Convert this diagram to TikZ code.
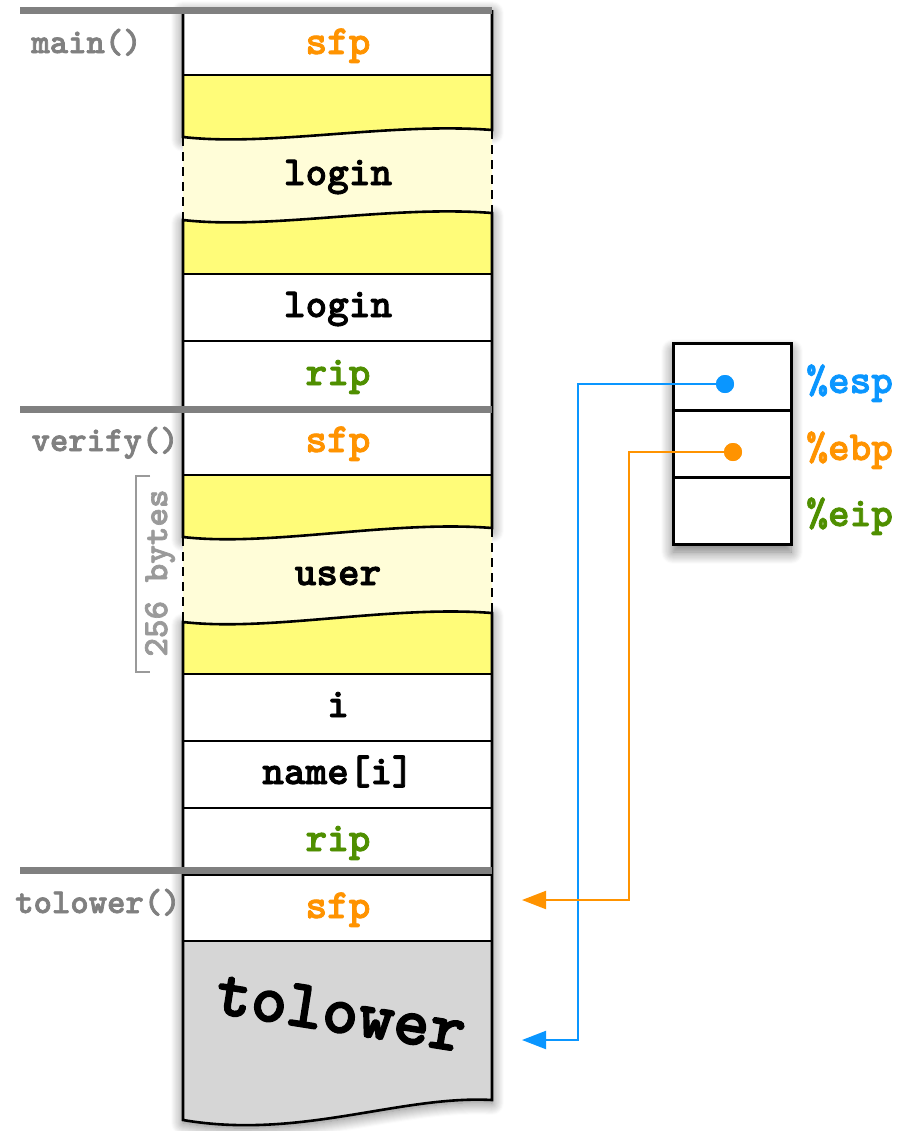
\documentclass[tikz,border=0pt]{standalone}
\usepackage{fontspec}
\newfontfamily\cbold{lmmonolt10-bold.otf}[FakeBold=2]
\usetikzlibrary{arrows.meta,shadows.blur}
\definecolor{cOrange}{HTML}{FF9300}
\definecolor{cBlue}{HTML}{0A96FF}
\definecolor{cGreen}{HTML}{4F8F00}
\definecolor{cGrayT}{HTML}{808080}
\definecolor{cGrayB}{HTML}{9A9A9A}
\definecolor{cYel}{HTML}{FFFC79}
\definecolor{cLYel}{HTML}{FFFDD8}
\definecolor{cTol}{HTML}{D6D6D6}
\tikzset{
  mono/.style={font=\cbold\fontsize{20.6}{22}\selectfont, inner sep=0pt},
  side/.style={font=\cbold\fontsize{17.5}{19}\selectfont, text=cGrayT, inner sep=0pt, anchor=base east},
  reglab/.style={font=\cbold\fontsize{20.6}{22}\selectfont, inner sep=0pt, anchor=base west},
  colshadow/.style={blur shadow={shadow xshift=0pt, shadow yshift=-1.5pt, shadow blur radius=6pt, shadow opacity=55, shadow blur steps=12}},
  border/.style={line width=1.3pt, black},
  divider/.style={line width=1.1pt, black},
  sep/.style={line width=3.5pt, cGrayT},
  regcell/.style={draw, line width=1.5pt, fill=white, minimum width=59pt, minimum height=33.5pt, inner sep=0pt, outer sep=0pt},
  dot/.style={circle, inner sep=0pt, minimum size=9pt},
  ptr/.style={line width=1pt, -{Triangle[length=12pt,width=9pt]}},
}
\begin{document}
\begin{tikzpicture}[x=0.5pt,y=-0.5pt]
\useasboundingbox (0,0) rectangle (897,1131);
% shadows of column segments
\path[fill=white, colshadow] (183,10) -- (492,10) -- (492,130) .. controls (390,122) and (270,147) .. (183,137) -- cycle;
\path[fill=white, colshadow] (183,220) .. controls (270,230) and (390,205) .. (492,213) -- (492,528) .. controls (390,520) and (270,547) .. (183,537) -- cycle;
\path[fill=white, colshadow] (183,622) .. controls (270,632) and (390,605) .. (492,613) -- (492,1100) .. controls (400,1095) and (300,1140) .. (183,1120) -- cycle;
% fills
\fill[white] (183,10) rectangle (492,75);
\fill[cYel] (183,75) -- (492,75) -- (492,130) .. controls (390,122) and (270,147) .. (183,137) -- cycle;
\fill[cLYel] (183,137) .. controls (270,147) and (390,122) .. (492,130) -- (492,213) .. controls (390,205) and (270,230) .. (183,220) -- cycle;
\fill[cYel] (183,220) .. controls (270,230) and (390,205) .. (492,213) -- (492,274) -- (183,274) -- cycle;
\fill[white] (183,274) rectangle (492,475);
\fill[cYel] (183,475) -- (492,475) -- (492,528) .. controls (390,520) and (270,547) .. (183,537) -- cycle;
\fill[cLYel] (183,537) .. controls (270,547) and (390,520) .. (492,528) -- (492,613) .. controls (390,605) and (270,632) .. (183,622) -- cycle;
\fill[cYel] (183,622) .. controls (270,632) and (390,605) .. (492,613) -- (492,674) -- (183,674) -- cycle;
\fill[white] (183,674) rectangle (492,941);
\fill[cTol] (183,941) -- (492,941) -- (492,1100) .. controls (400,1095) and (300,1140) .. (183,1120) -- cycle;
% outlines
\draw[border] (183,10) -- (183,137) .. controls (270,147) and (390,122) .. (492,130) -- (492,10);
\draw[border] (183,220) .. controls (270,230) and (390,205) .. (492,213) -- (492,528) .. controls (390,520) and (270,547) .. (183,537) -- cycle;
\draw[border] (183,622) .. controls (270,632) and (390,605) .. (492,613) -- (492,1100) .. controls (400,1095) and (300,1140) .. (183,1120) -- cycle;
\draw[border, dash pattern=on 4.5pt off 3pt] (183,137) -- (183,220) (492,130) -- (492,213) (183,537) -- (183,622) (492,528) -- (492,613);
\foreach \yy in {75,274,341,475,674,741,808,875,941} \draw[divider] (183,\yy) -- (492,\yy);
% frame separators
\draw[sep] (20,10) -- (492,10);
\draw[sep] (20,409) -- (492,409);
\draw[sep] (20,870) -- (492,870);
% column texts
\node[mono, text=cOrange, anchor=base] (sfpA) at (338,54) {sfp};
\node[mono, anchor=base] (loginA) at (338,185) {login};
\node[mono, anchor=base] (loginB) at (338,317) {login};
\node[mono, text=cGreen, anchor=base] (ripA) at (338,385) {rip};
\node[mono, text=cOrange, anchor=base] (sfpB) at (338,452) {sfp};
\node[mono, anchor=base] (user) at (338,585) {user};
\node[mono, anchor=base] (ivar) at (338,717) {i};
\node[mono, anchor=base] (namei) at (338,784) {name[i]};
\node[mono, text=cGreen, anchor=base] (ripB) at (338,851) {rip};
\node[mono, text=cOrange, anchor=base] (sfpC) at (338,918) {sfp};
\node[font=\cbold\fontsize{34.3}{36}\selectfont, inner sep=0pt, rotate=-9] (tolbig) at (341,1012) {tolower};
% frame labels
\node[side] (lmain) at (142,53) {main()};
\node[side] (lverify) at (179,451) {verify()};
\node[side] (ltolower) at (181,913) {tolower()};
% 256 bytes bracket
\draw[line width=1pt, cGrayB] (150,476) -- (136,476) -- (136,672) -- (150,672);
\node[font=\cbold\fontsize{17.7}{19}\selectfont, text=cGrayB, inner sep=0pt, rotate=90] (bytes) at (160,573) {256 bytes};
% register file
\path[fill=white, blur shadow={shadow xshift=0pt, shadow yshift=-4pt, shadow blur radius=6pt, shadow opacity=55, shadow blur steps=12}] (673,343) rectangle (791,544);
\node[regcell] (resp) at (732,376.5) {};
\node[regcell] (rebp) at (732,443.5) {};
\node[regcell] (reip) at (732,510.5) {};
\node[reglab, text=cBlue] (lesp) at (806,393) {\%esp};
\node[reglab, text=cOrange] (lebp) at (806,460) {\%ebp};
\node[reglab, text=cGreen] (leip) at (806,526) {\%eip};
% pointers
\node[dot, fill=cBlue] (dEsp) at (725,384) {};
\node[dot, fill=cOrange] (dEbp) at (733,452) {};
\coordinate (kEsp) at (578,384);
\coordinate (tEsp) at (522,1040);
\coordinate (kEbp) at (629,452);
\coordinate (tEbp) at (522,900);
\draw[ptr, cBlue] (dEsp.center) -- (kEsp) |- (tEsp);
\draw[ptr, cOrange] (dEbp.center) -- (kEbp) |- (tEbp);
\node[dot, fill=cBlue] at (dEsp) {};
\node[dot, fill=cOrange] at (dEbp) {};
\end{tikzpicture}
\end{document}
